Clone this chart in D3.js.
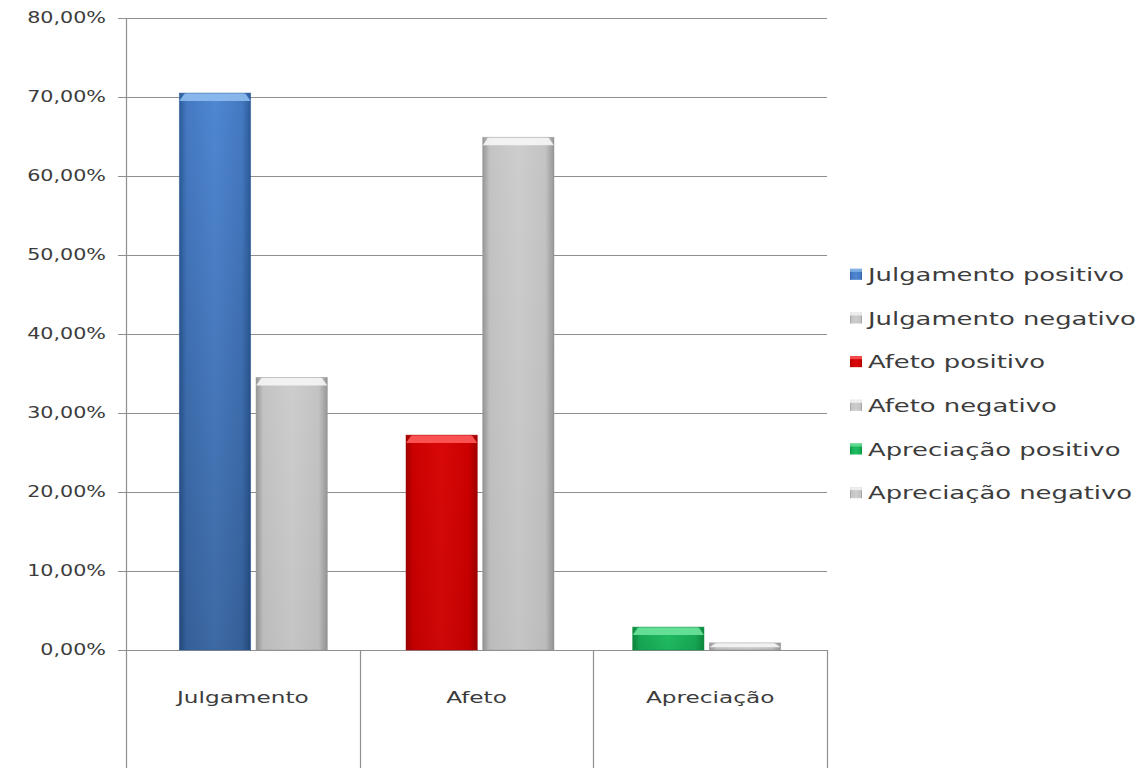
<!DOCTYPE html>
<html>
<head>
<meta charset="utf-8">
<script src="https://cdn.jsdelivr.net/npm/d3@7"></script>
<style>
  body { margin: 0; background: #ffffff; }
  text { font-family: "DejaVu Sans", sans-serif; fill: #3c3c3c; }
</style>
</head>
<body>
<svg id="chart" width="1146" height="771"></svg>
<script>
// ---- data ----
const categories = ["Julgamento", "Afeto", "Apreciação"];
const polarities = ["positivo", "negativo"];
const positiveValues = [70.5, 27.2, 2.9];   // % per category
const negativeValues = [34.5, 64.9, 0.9];   // % per category
const yTicks = [0, 10, 20, 30, 40, 50, 60, 70, 80];
const legendLabels = [
  "Julgamento positivo", "Julgamento negativo",
  "Afeto positivo", "Afeto negativo",
  "Apreciação positivo", "Apreciação negativo"
];

// ---- styles ----
const positiveStyles = [
  { edge: "#2c5b99", mid: "#4479c2", light: "#4f87d2", cap: "#8fbcef", shade: 0.22 },
  { edge: "#a00000", mid: "#cc0000", light: "#d80808", cap: "#ff5a5a", shade: 0.05 },
  { edge: "#0c8a3e", mid: "#17aa55", light: "#20bd62", cap: "#6ee39c", shade: 0.05 }
];
const negativeStyle = { edge: "#979797", mid: "#c3c3c3", light: "#cdcdcd", cap: "#f6f6f6", shade: 0.04 };

const svg = d3.select("#chart");
const defs = svg.append("defs");

function barGradient(id, s) {
  const g = defs.append("linearGradient").attr("id", id)
    .attr("x1", "0").attr("x2", "1").attr("y1", "0").attr("y2", "0");
  [[0, s.edge], [0.1, s.mid], [0.5, s.light], [0.88, s.mid], [1, s.edge]]
    .forEach(([o, c]) => g.append("stop").attr("offset", o).attr("stop-color", c));
}
positiveStyles.forEach((s, i) => barGradient("pos" + i, s));
barGradient("neg", negativeStyle);

// soft darkening toward the base of each bar
const shade = defs.append("linearGradient").attr("id", "shade")
  .attr("x1", "0").attr("x2", "0").attr("y1", "0").attr("y2", "1");
shade.append("stop").attr("offset", 0).attr("stop-color", "#000").attr("stop-opacity", 0);
shade.append("stop").attr("offset", 1).attr("stop-color", "#000").attr("stop-opacity", 1);

// ---- scales ----
const y = d3.scaleLinear().domain([0, 80]).range([650, 18]);
const xCat = d3.scaleBand().domain(categories).range([126, 827]);
const xBar = d3.scaleBand().domain(categories).range([140, 820]);
const xInner = d3.scaleBand().domain(polarities).range([-74, 74]).paddingInner(0.07);

// scaled-width text helper
function wideText(sel, x, yy, str, size, sx, anchor) {
  return sel.append("text")
    .attr("transform", `translate(${x},${yy}) scale(${sx},1)`)
    .attr("text-anchor", anchor)
    .style("font-size", size + "px")
    .text(str);
}

// ---- gridlines + y axis ----
const grid = svg.append("g");
yTicks.forEach(t => {
  grid.append("line")
    .attr("x1", 118).attr("x2", xCat.range()[1])
    .attr("y1", Math.round(y(t)) + 0.5).attr("y2", Math.round(y(t)) + 0.5)
    .attr("stroke", "#8f8f8f").attr("stroke-width", 1.2);
  wideText(grid, 106, y(t) + 5, d3.format(".2f")(t).replace(".", ",") + "%", 15, 1.38, "end");
});
grid.append("line")
  .attr("x1", xCat.range()[0] + 0.5).attr("x2", xCat.range()[0] + 0.5)
  .attr("y1", y(80)).attr("y2", 768)
  .attr("stroke", "#8f8f8f").attr("stroke-width", 1.2);

// category separators below the axis
const seps = categories.slice(1).map(c => xCat(c)).concat([xCat.range()[1]]);
seps.forEach(sx => {
  grid.append("line")
    .attr("x1", Math.round(sx) + 0.5).attr("x2", Math.round(sx) + 0.5)
    .attr("y1", y(0)).attr("y2", 768)
    .attr("stroke", "#8f8f8f").attr("stroke-width", 1.2);
});

// category labels
categories.forEach(c => {
  wideText(svg, xCat(c) + xCat.bandwidth() / 2, 703, c, 16, 1.45, "middle");
});

// ---- bars ----
const rows = categories.map((c, i) => ({
  category: c, i,
  values: [
    { pol: "positivo", v: positiveValues[i], fill: `url(#pos${i})`, style: positiveStyles[i] },
    { pol: "negativo", v: negativeValues[i], fill: "url(#neg)", style: negativeStyle }
  ]
}));

const groups = svg.append("g").selectAll("g").data(rows).join("g")
  .attr("transform", d => `translate(${xBar(d.category) + xBar.bandwidth() / 2},0)`);

const bars = groups.selectAll("g.bar").data(d => d.values).join("g").attr("class", "bar");
const bw = xInner.bandwidth();

bars.append("rect")
  .attr("x", d => xInner(d.pol)).attr("width", bw)
  .attr("y", d => y(d.v)).attr("height", d => y(0) - y(d.v))
  .attr("fill", d => d.fill);
bars.append("rect")
  .attr("x", d => xInner(d.pol)).attr("width", bw)
  .attr("y", d => y(d.v)).attr("height", d => y(0) - y(d.v))
  .attr("fill", "url(#shade)").attr("opacity", d => d.style.shade);
// bevelled cap
bars.append("path")
  .attr("d", d => {
    const x0 = xInner(d.pol), x1 = x0 + bw, top = y(d.v);
    const h = Math.min(8, (y(0) - top) * 0.6);
    return `M${x0},${top + h} L${x0 + 5},${top + 1} Q${x0 + 6},${top} ${x0 + 8},${top} L${x1 - 8},${top} Q${x1 - 6},${top} ${x1 - 5},${top + 1} L${x1},${top + h} Z`;
  })
  .attr("fill", d => d.style.cap).attr("opacity", 0.9);
bars.append("rect")
  .attr("x", d => xInner(d.pol)).attr("width", bw)
  .attr("y", d => y(d.v)).attr("height", d => y(0) - y(d.v))
  .attr("fill", "none").attr("stroke", d => d.style.edge).attr("stroke-width", 0.8).attr("stroke-opacity", 0.6);

// ---- legend ----
const legendY = d3.scaleBand().domain(legendLabels).range([253, 515]);
const legendStyles = [positiveStyles[0], negativeStyle, positiveStyles[1], negativeStyle, positiveStyles[2], negativeStyle];
const legendFills = ["url(#pos0)", "url(#neg)", "url(#pos1)", "url(#neg)", "url(#pos2)", "url(#neg)"];
const legend = svg.append("g");
legendLabels.forEach((lab, i) => {
  const cy = legendY(lab) + legendY.bandwidth() / 2;
  legend.append("rect").attr("x", 850).attr("y", cy - 6).attr("width", 12).attr("height", 11)
    .attr("fill", legendFills[i]);
  legend.append("rect").attr("x", 850).attr("y", cy - 6).attr("width", 12).attr("height", 3)
    .attr("fill", legendStyles[i].cap).attr("opacity", 0.8);
  wideText(legend, 868, cy + 6, lab, 17, 1.52, "start");
});
</script>
</body>
</html>
